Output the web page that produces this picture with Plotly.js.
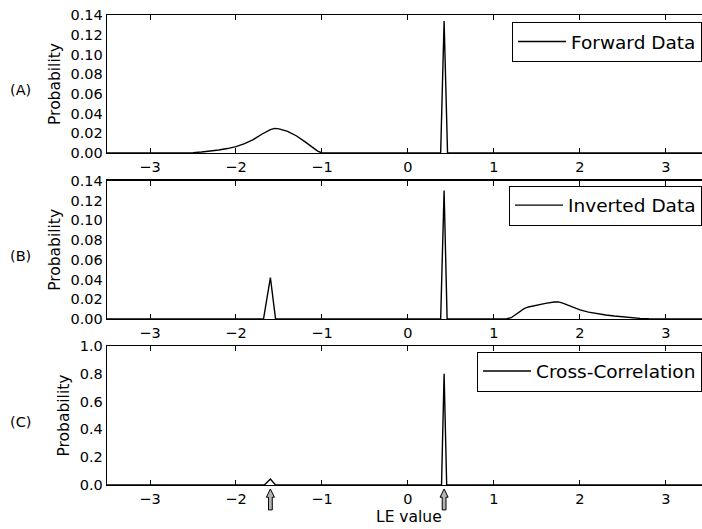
<!DOCTYPE html>
<html>
<head>
<meta charset="utf-8">
<script src="https://cdn.plot.ly/plotly-3.0.1.min.js"></script>
<style>html,body{margin:0;padding:0;background:#fff;}#chart{width:702px;height:529px;}</style>
</head>
<body>
<div id="chart"></div>
<script>
// ---- data ----
const xForward = [-3.5, -2.8, -2.6, -2.5, -2.4, -2.3, -2.2, -2.1, -2.0, -1.9, -1.8, -1.7, -1.6, -1.55, -1.5, -1.4, -1.3, -1.2, -1.1, -1.05, -1.0, 0.38, 0.42, 0.46, 3.5];
const yForward = [0, 0, 0.0001, 0.0004, 0.001, 0.0019, 0.003, 0.0045, 0.0065, 0.0095, 0.0135, 0.019, 0.0238, 0.025, 0.0245, 0.022, 0.0175, 0.0115, 0.005, 0.002, 0, 0, 0.134, 0, 0];

const xInverted = [-3.5, -1.68, -1.6, -1.54, 0.38, 0.42, 0.455, 1.1, 1.15, 1.2, 1.25, 1.3, 1.35, 1.4, 1.45, 1.5, 1.6, 1.7, 1.75, 1.8, 1.9, 2.0, 2.1, 2.2, 2.3, 2.4, 2.5, 2.6, 2.7, 2.8, 2.9, 3.0, 3.5];
const yInverted = [0, 0, 0.042, 0, 0, 0.13, 0, 0, 0.0003, 0.0013, 0.0042, 0.0078, 0.0105, 0.0122, 0.0132, 0.0142, 0.0158, 0.0172, 0.0173, 0.016, 0.0124, 0.0092, 0.0069, 0.0052, 0.004, 0.003, 0.002, 0.0012, 0.0006, 0.0002, 0.0001, 0, 0];

const xCross = [-3.5, -1.67, -1.6, -1.54, 0.39, 0.42, 0.45, 3.5];
const yCross = [0, 0, 0.043, 0, 0, 0.8, 0, 0];

const seriesNames = ['Forward Data', 'Inverted Data', 'Cross-Correlation'];
const panelLabels = ['(A)', '(B)', '(C)'];
const arrowX = [-1.6, 0.42];
const xTickVals = [-3, -2, -1, 0, 1, 2, 3];

// ---- styling ----
const FONT = 'DejaVu Sans, sans-serif';
const lineStyle = {color: '#000', width: 1.4};

const traces = [
  {x: xForward, y: yForward, xaxis: 'x', yaxis: 'y', legend: 'legend'},
  {x: xInverted, y: yInverted, xaxis: 'x2', yaxis: 'y2', legend: 'legend2'},
  {x: xCross, y: yCross, xaxis: 'x3', yaxis: 'y3', legend: 'legend3'}
].map((t, i) => Object.assign(t, {
  type: 'scatter', mode: 'lines', name: seriesNames[i], line: lineStyle, showlegend: true
}));

function xAx(anchor) {
  return {
    anchor: anchor, range: [-3.5, 3.419], tickvals: xTickVals,
    ticks: 'inside', ticklen: 5, tickwidth: 1, tickcolor: '#000',
    showline: true, linecolor: '#000', linewidth: 1.3, mirror: 'ticks',
    showgrid: false, zeroline: false,
    tickfont: {family: FONT, size: 14.5, color: '#000'}
  };
}
function yAx(domain, range, dtick, fmt) {
  return {
    domain: domain, range: range, dtick: dtick, tick0: 0, tickformat: fmt,
    ticks: '', showline: true, linecolor: '#000', linewidth: 1.3, mirror: false,
    showgrid: false, zeroline: false,
    tickfont: {family: FONT, size: 14.5, color: '#000'},
    title: {text: 'Probability', font: {family: FONT, size: 15.5, color: '#000'}, standoff: 6}
  };
}
function leg(y) {
  return {
    x: 1, xanchor: 'right', y: y, yanchor: 'top',
    bgcolor: '#fff', bordercolor: '#000', borderwidth: 1,
    font: {family: FONT, size: 18.5, color: '#000'}, itemwidth: 48
  };
}

const annotations = panelLabels.map((t, i) => ({
  text: t, xref: 'paper', x: -0.146, xanchor: 'center',
  yref: (i === 0 ? 'y' : 'y' + (i + 1)) + ' domain', y: 0.455, yanchor: 'middle',
  showarrow: false, font: {family: FONT, size: 14.5, color: '#000'}
}));
annotations.push({
  text: 'LE value', xref: 'x3', x: 0.01, xanchor: 'center',
  yref: 'paper', y: -0.068, yanchor: 'middle', showarrow: false,
  font: {family: FONT, size: 15.5, color: '#000'}
});

const hw = 0.047, sw = 0.022, yTip = -0.0085, yHead = -0.026, yBot = -0.053;
const shapes = arrowX.map(a => ({
  type: 'path', xref: 'x3', yref: 'paper', layer: 'above',
  path: `M${a - sw},${yBot} L${a - sw},${yHead} L${a - hw},${yHead} L${a},${yTip} L${a + hw},${yHead} L${a + sw},${yHead} L${a + sw},${yBot} Z`,
  fillcolor: '#b4b4b4', line: {color: '#000', width: 1}
}));

const layout = {
  width: 702, height: 529,
  margin: {l: 107, r: 0, t: 15, b: 44},
  paper_bgcolor: '#fff', plot_bgcolor: '#fff',
  font: {family: FONT, color: '#000'},
  xaxis: xAx('y'), xaxis2: xAx('y2'), xaxis3: xAx('y3'),
  yaxis: yAx([0.7064, 1], [0, 0.14], 0.02, '.2f'),
  yaxis2: yAx([0.3532, 0.6474], [0, 0.14], 0.02, '.2f'),
  yaxis3: yAx([0, 0.2957], [0, 1.0], 0.2, '.1f'),
  legend: leg(0.985), legend2: leg(0.637), legend3: leg(0.284),
  annotations: annotations, shapes: shapes
};

Plotly.newPlot('chart', traces, layout, {displayModeBar: false, staticPlot: true});
</script>
</body>
</html>
